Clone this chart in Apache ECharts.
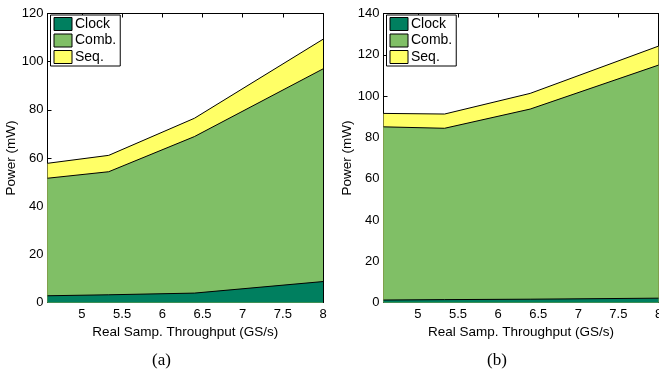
<!DOCTYPE html>
<html>
<head>
<meta charset="utf-8">
<script src="https://cdn.jsdelivr.net/npm/echarts@6/dist/echarts.min.js"></script>
<style>
  html, body { margin: 0; padding: 0; background: #fff; }
  #chart { width: 659px; height: 375px; }
</style>
</head>
<body>
<div id="chart"></div>
<script>
// sampling throughput points (GS/s): 32/7, 32/6, 32/5, 32/4
const throughput = [32 / 7, 32 / 6, 32 / 5, 8];
const xTicks = [5, 5.5, 6, 6.5, 7, 7.5, 8];

// (a) power breakdown, mW
const clockA = [2.8, 3.2, 3.9, 8.7];
const combA = [48.8, 51.1, 65.0, 88.3];
const seqA = [6.2, 6.8, 7.6, 12.3];

// (b) power breakdown, mW
const clockB = [1.2, 1.4, 1.6, 2.1];
const combB = [83.9, 83.0, 92.1, 112.9];
const seqB = [6.5, 6.9, 7.6, 9.2];

const names = ['Clock', 'Comb.', 'Seq.'];
const colors = ['#007f5f', '#80bf66', '#ffff66'];
const font = 'Liberation Sans, Arial, sans-serif';

const chart = echarts.init(document.getElementById('chart'));

// stacking done by hand (value x axis), drawn top layer first so lower ones paint over
function areaSeries(idx, data) {
  const cum = [];
  data.forEach((vals, k) => {
    cum.push(vals.map((v, i) => v + (k > 0 ? cum[k - 1][i] : 0)));
  });
  const out = [];
  for (let k = data.length - 1; k >= 0; k--) {
    out.push({
      name: names[k],
      type: 'line',
      xAxisIndex: idx * 2,
      yAxisIndex: idx * 2,
      symbol: 'none',
      silent: true,
      lineStyle: { color: '#000', width: 1 },
      itemStyle: { color: colors[k] },
      areaStyle: { color: colors[k], opacity: 1, origin: 'start' },
      data: cum[k].map((v, i) => [throughput[i], v])
    });
  }
  return out;
}

function xAxes(gridIndex) {
  const base = {
    gridIndex: gridIndex,
    type: 'value',
    min: 32 / 7,
    max: 8,
    splitLine: { show: false },
    axisLine: { onZero: false, lineStyle: { color: '#000', width: 1 } },
    axisTick: { inside: true, length: 4, customValues: xTicks, lineStyle: { color: '#000' } }
  };
  return [
    Object.assign({}, base, {
      position: 'bottom',
      name: 'Real Samp. Throughput (GS/s)',
      nameLocation: 'middle',
      nameGap: 18,
      nameTextStyle: { color: '#000', fontSize: 13.5, fontFamily: font },
      axisLabel: { customValues: xTicks, color: '#000', fontSize: 13, fontFamily: font, margin: 5 }
    }),
    Object.assign({}, base, { position: 'top', axisLabel: { show: false } })
  ];
}

function yAxes(gridIndex, max) {
  const base = {
    gridIndex: gridIndex,
    type: 'value',
    min: 0,
    max: max,
    interval: 20,
    splitLine: { show: false },
    axisLine: { onZero: false, lineStyle: { color: '#000', width: 1 } },
    axisTick: { inside: true, length: 4, lineStyle: { color: '#000' } }
  };
  return [
    Object.assign({}, base, {
      position: 'left',
      name: 'Power (mW)',
      nameLocation: 'middle',
      nameGap: 26,
      nameTextStyle: { color: '#000', fontSize: 13.5, fontFamily: font },
      axisLabel: { color: '#000', fontSize: 13, fontFamily: font, margin: 4 }
    }),
    Object.assign({}, base, { position: 'right', axisLabel: { show: false } })
  ];
}

function legend(left) {
  return {
    left: left,
    top: 15,
    orient: 'vertical',
    data: names,
    icon: 'rect',
    itemWidth: 18,
    itemHeight: 13,
    itemGap: 2.5,
    padding: [2, 4, 2, 3],
    backgroundColor: '#fff',
    borderColor: '#000',
    borderWidth: 1,
    borderRadius: 0,
    selectedMode: false,
    itemStyle: { borderColor: '#000', borderWidth: 1 },
    textStyle: { color: '#000', fontSize: 14, fontFamily: font, padding: [0, 0, 0, -2] }
  };
}

chart.setOption({
  animation: false,
  grid: [
    { left: 47.5, top: 13.5, width: 275.5, height: 289, outerBoundsMode: 'none' },
    { left: 383.5, top: 13.5, width: 275, height: 289, outerBoundsMode: 'none' }
  ],
  xAxis: xAxes(0).concat(xAxes(1)),
  yAxis: yAxes(0, 120).concat(yAxes(1, 140)),
  legend: [legend(50.5), legend(386.5)],
  series: areaSeries(0, [clockA, combA, seqA]).concat(areaSeries(1, [clockB, combB, seqB])),
  graphic: [
    { type: 'text', left: 152, top: 352, style: { text: '(a)', fill: '#000', font: '17px "Liberation Serif", serif' } },
    { type: 'text', left: 487, top: 352, style: { text: '(b)', fill: '#000', font: '17px "Liberation Serif", serif' } }
  ]
});
</script>
</body>
</html>
